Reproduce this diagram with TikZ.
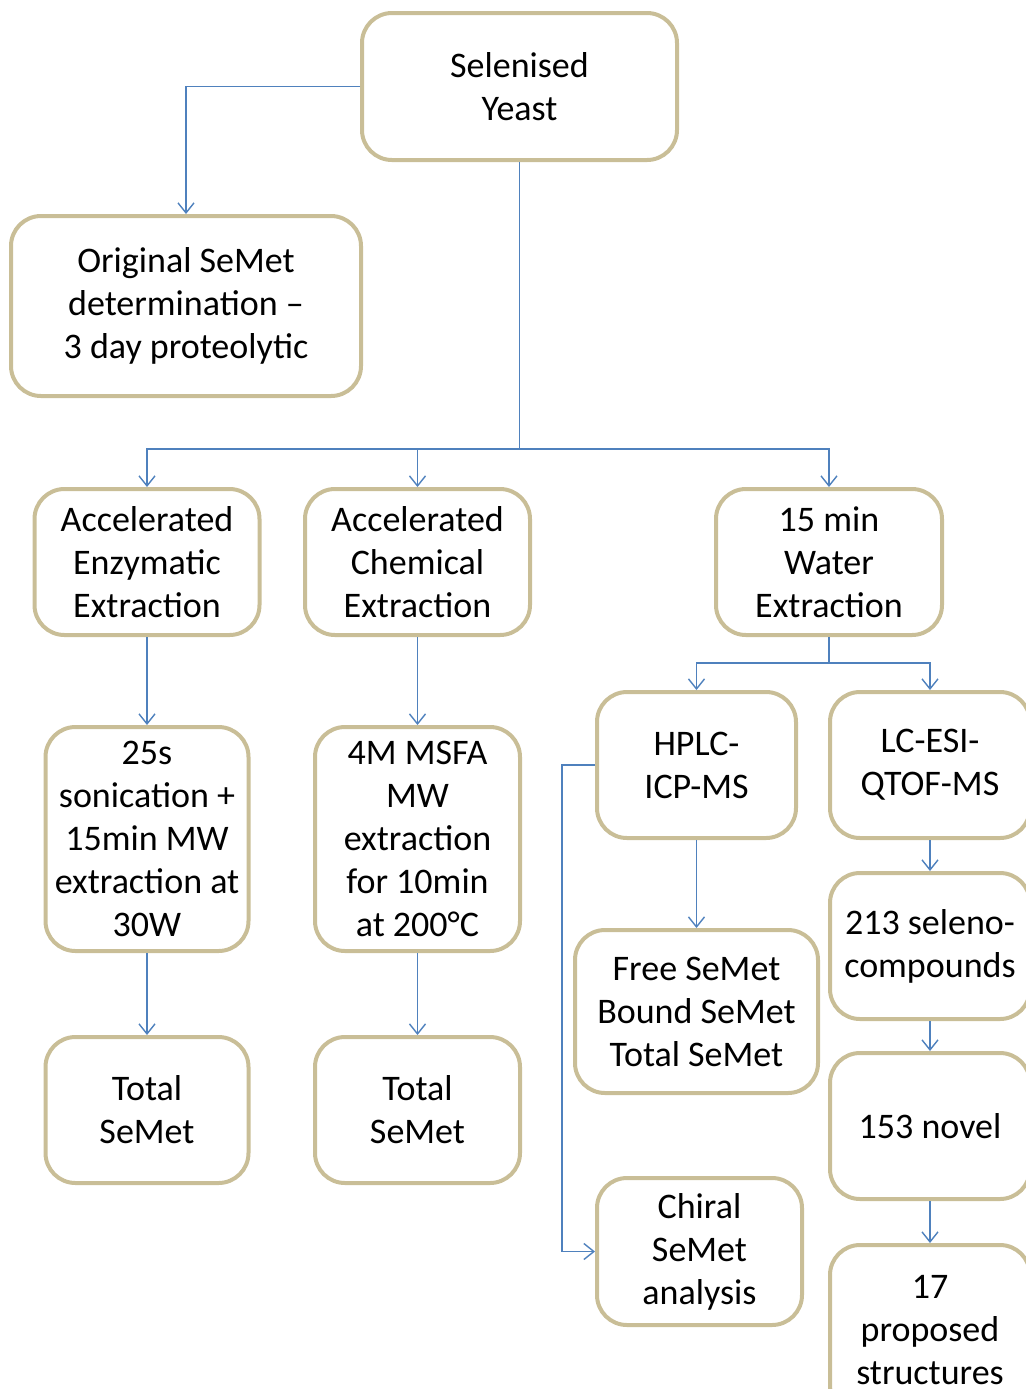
\documentclass[tikz,border=0pt]{standalone}
\usepackage{fontspec}
\setmainfont{Carlito}
\usetikzlibrary{arrows.meta}
\definecolor{boxtan}{RGB}{201,190,151}
\definecolor{linkblue}{RGB}{79,129,189}

\begin{document}
\begin{tikzpicture}[x=0.5pt,y=-0.5pt,
  stage/.style={draw=boxtan,line width=2pt,rounded corners=15pt,
    minimum width=#1,align=center,inner sep=0pt,
    font=\fontsize{18}{21.5}\selectfont},
  stage/.default=100pt,
  link/.style={draw=linkblue,line width=0.7pt,-{Straight Barb[length=5pt,width=8pt]}},
  trunk/.style={draw=linkblue,line width=0.7pt}]
\clip (0,0) rectangle (1026,1389);

% top of the tree
\node [stage=157.5pt,minimum height=73.5pt] (yeast) at (519.5,86.5) {Selenised\\Yeast};
\node [stage=175pt,minimum height=90pt] (orig) at (186,306) {Original SeMet\\determination --\\3 day proteolytic};

% three extraction routes
\node [stage=112.5pt,minimum height=73pt] (enz) at (147,562) {Accelerated\\Enzymatic\\Extraction};
\node [stage=112.5pt,minimum height=73pt] (chem) at (417.5,562) {Accelerated\\Chemical\\Extraction};
\node [stage=113pt,minimum height=73pt] (water) at (829,562) {15 min\\Water\\Extraction};

\node [stage=101.5pt,minimum height=112pt] (sonic) at (147,839) {25s\\sonication +\\15min MW\\extraction at\\30W};
\node [stage=102.5pt,minimum height=112pt] (msfa) at (417.5,839) {4M MSFA\\MW\\extraction\\for 10min\\at 200\textdegree C};
\node [stage=101.5pt,minimum height=73pt] (total1) at (147,1110) {Total\\SeMet};
\node [stage=102.5pt,minimum height=73pt] (total2) at (417.5,1110) {Total\\SeMet};

% water extract analysis
\node [stage=99.5pt,minimum height=73pt] (hplc) at (696.5,765) {HPLC-\\ICP-MS};
\node [stage=100pt,minimum height=73pt] (lcms) at (930,765) {LC-ESI-\\QTOF-MS};
\node [stage=121.5pt,minimum height=81.5pt] (forms) at (696.5,1011.5) {Free SeMet\\Bound SeMet\\Total SeMet};
\node [stage=102.5pt,minimum height=73.5pt] (chiral) at (699.5,1251.5) {Chiral\\SeMet\\analysis};
\node [stage=100pt,minimum height=73pt] (seleno) at (930,946) {213 seleno-\\compounds};
\node [stage=100pt,minimum height=73pt] (novel) at (930,1126) {153 novel};
\node [stage=100pt,minimum height=85pt] (struct) at (930,1330) {17\\proposed\\structures};

% connectors
\coordinate (split) at (519.5,449);
\coordinate (wsplit) at (829,663);
\draw [link] (yeast.west) -| (orig.north);
\draw [trunk] (yeast.south) -- (split);
\draw [link] (split) -| (enz.north);
\draw [link] (split) -| (chem.north);
\draw [link] (split) -| (water.north);
\draw [link] (enz) -- (sonic);
\draw [link] (chem) -- (msfa);
\draw [link] (sonic) -- (total1);
\draw [link] (msfa) -- (total2);
\draw [trunk] (water.south) -- (wsplit);
\draw [link] (wsplit) -| (hplc.north);
\draw [link] (wsplit) -| (lcms.north);
\draw [link] (hplc) -- (forms);
\draw [link] (hplc.west) -- ++(-33,0) |- (chiral.west);
\draw [link] (lcms) -- (seleno);
\draw [link] (seleno) -- (novel);
\draw [link] (novel) -- (struct);

\end{tikzpicture}
\end{document}
